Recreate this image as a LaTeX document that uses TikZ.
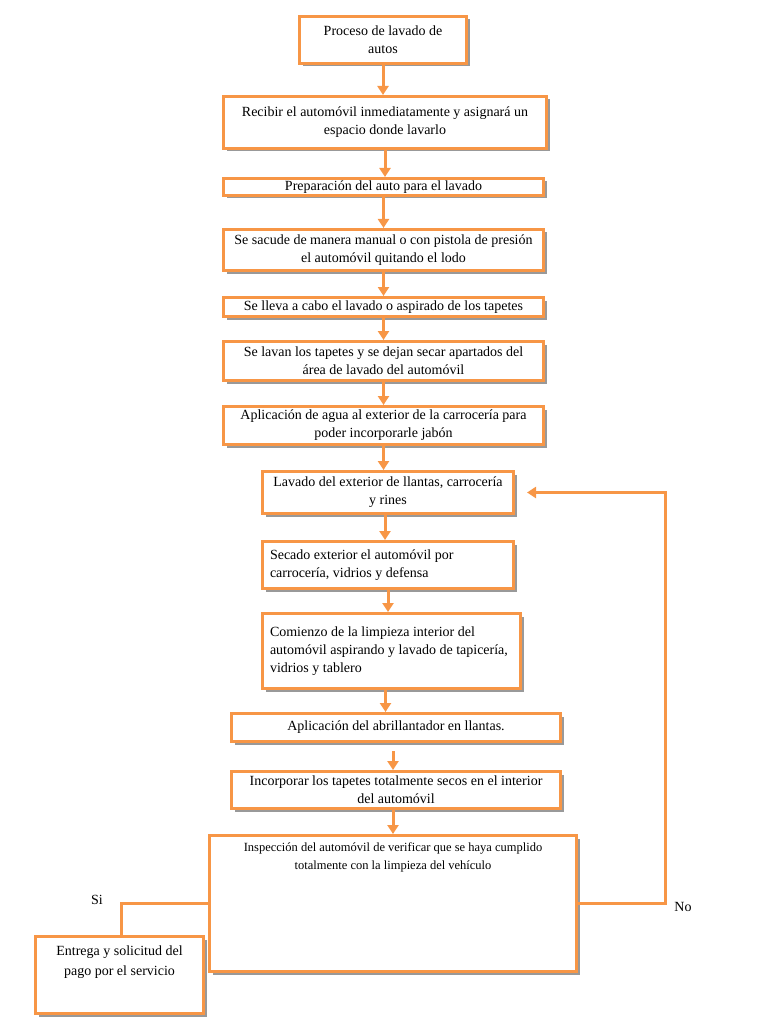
\documentclass[tikz,border=0pt]{standalone}
\usepackage{fontspec}
\setmainfont{Liberation Serif}
\usetikzlibrary{arrows.meta,shadows,positioning}
\definecolor{naranja}{HTML}{F79646}

\begin{document}
\begin{tikzpicture}[x=1pt,y=-1pt,
	caja/.style={draw=naranja,line width=3pt,fill=white,
		drop shadow={shadow xshift=3pt,shadow yshift=-3pt,fill=gray!80,opacity=1},
		font=\fontsize{14}{18}\selectfont,align=center,inner sep=2pt},
	flecha/.style={draw=naranja,line width=3pt,-{Triangle[width=11pt,length=9pt]}},
	linea/.style={draw=naranja,line width=3pt},
	etiqueta/.style={font=\fontsize{14}{16}\selectfont}]

	\useasboundingbox (0,0) rectangle (768,1024);

	% cajas del proceso
	\node[caja,minimum width=167pt,minimum height=47pt] (proceso) at (383,40) {Proceso de lavado de\\autos};
	\node[caja,minimum width=323pt,minimum height=52pt] (recibir) at (385,122.5) {Recibir el automóvil inmediatamente y asignará un\\espacio donde lavarlo};
	\node[caja,minimum width=320pt,minimum height=17pt] (preparacion) at (383.5,187) {Preparación del auto para el lavado};
	\node[caja,minimum width=320pt,minimum height=41pt] (sacude) at (383.5,250) {Se sacude de manera manual o con pistola de presión\\el automóvil quitando el lodo};
	\node[caja,minimum width=320pt,minimum height=19pt] (lleva) at (383.5,307) {Se lleva a cabo el lavado o aspirado de los tapetes};
	\node[caja,minimum width=320pt,minimum height=39pt] (lavan) at (383.5,361) {Se lavan los tapetes y se dejan secar apartados del\\área de lavado del automóvil};
	\node[caja,minimum width=320pt,minimum height=38pt] (agua) at (383.5,425.5) {Aplicación de agua al exterior de la carrocería para\\poder incorporarle jabón};
	\node[caja,minimum width=251pt,minimum height=42pt] (lavado) at (388,492.5) {Lavado del exterior de llantas, carrocería\\y rines};
	\node[caja,minimum width=251pt,minimum height=47pt,text width=236pt,align=flush left] (secado) at (388,565) {Secado exterior el automóvil por\\carrocería, vidrios y defensa};
	\node[caja,minimum width=258pt,minimum height=75pt,text width=243pt,align=flush left] (interior) at (391.5,651) {Comienzo de la limpieza interior del\\automóvil aspirando y lavado de tapicería,\\vidrios y tablero};
	\node[caja,minimum width=329pt,minimum height=28pt] (brillo) at (396,727.5) {Aplicación del abrillantador en llantas.};
	\node[caja,minimum width=329pt,minimum height=37pt] (tapetes) at (396,790) {Incorporar los tapetes totalmente secos en el interior\\del automóvil};
	\node[caja,minimum width=367pt,minimum height=136pt,
		label={[anchor=north,yshift=-5pt,align=center,font=\fontsize{12.5}{18}\selectfont]north:Inspección del automóvil de verificar que se haya cumplido\\totalmente con la limpieza del vehículo}] (inspeccion) at (393,903.5) {};
	\node[caja,minimum width=168pt,minimum height=77pt,
		label={[anchor=north,yshift=-7pt,align=center,font=\fontsize{14}{20}\selectfont]north:Entrega y solicitud del\\pago por el servicio}] (entrega) at (119.5,975) {};

	% flechas
	\draw[flecha] (proceso.south) -- (proceso.south |- recibir.north);
	\draw[flecha] (recibir.south) -- (recibir.south |- preparacion.north);
	\draw[flecha] (preparacion.south) -- (preparacion.south |- sacude.north);
	\draw[flecha] (sacude.south) -- (sacude.south |- lleva.north);
	\draw[flecha] (lleva.south) -- (lleva.south |- lavan.north);
	\draw[flecha] (lavan.south) -- (lavan.south |- agua.north);
	\draw[flecha] (agua.south) -- (agua.south |- lavado.north);
	\draw[flecha] ([xshift=-3pt]lavado.south) -- ([xshift=-3pt]lavado.south |- secado.north);
	\draw[flecha] (secado.south) -- (secado.south |- interior.north);
	\draw[flecha] ([xshift=-6pt]interior.south) -- ([xshift=-6pt]interior.south |- brillo.north);
	\draw[flecha,shorten <=8pt] ([xshift=-3pt]brillo.south) -- ([xshift=-3pt]brillo.south |- tapetes.north);
	\draw[flecha] ([xshift=-3pt]tapetes.south) -- ([xshift=-3pt]tapetes.south |- inspeccion.north);

	% decision
	\draw[flecha] (inspeccion.east) -- ++(87,0) |- ([xshift=12pt]lavado.east);
	\draw[linea] (inspeccion.west) -| ([xshift=2pt]entrega.north);
	\node[etiqueta] (si) at (97,900) {Si};
	\node[etiqueta] (no) at (683,907) {No};
\end{tikzpicture}
\end{document}
